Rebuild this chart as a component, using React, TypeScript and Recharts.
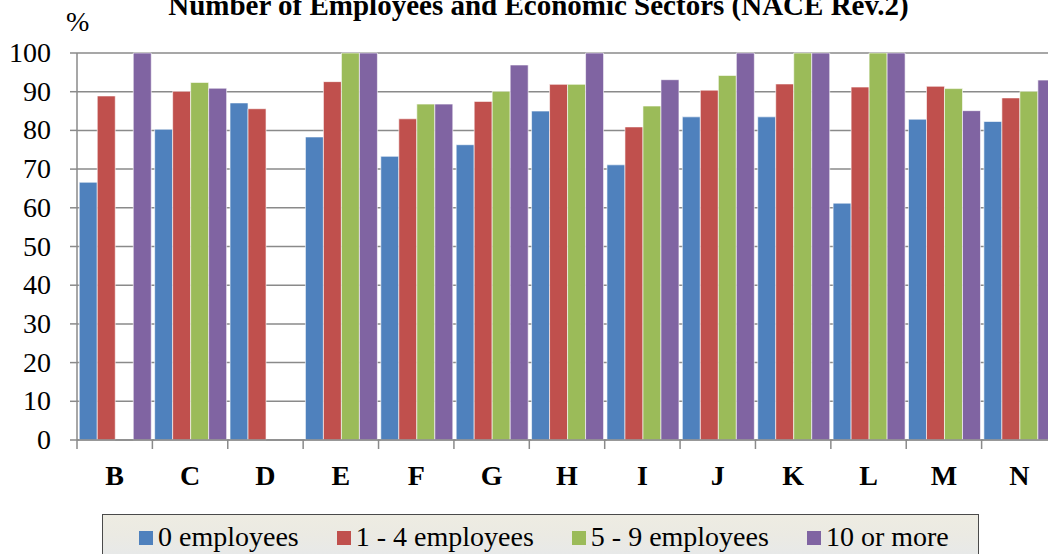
import React from "react";
import { BarChart, Bar, XAxis, YAxis, CartesianGrid } from "recharts";

const categories = ["B", "C", "D", "E", "F", "G", "H", "I", "J", "K", "L", "M", "N"];
const employees0 = [66.6, 80.3, 87.1, 78.3, 73.3, 76.3, 85.0, 71.1, 83.5, 83.5, 61.2, 82.9, 82.3];
const employees1to4 = [88.9, 90.1, 85.6, 92.6, 83.0, 87.5, 91.9, 80.9, 90.4, 92.0, 91.2, 91.4, 88.4];
const employees5to9 = [null, 92.4, null, 100, 86.8, 90.1, 91.9, 86.3, 94.2, 100, 100, 90.8, 90.1];
const employees10plus = [100, 90.9, null, 100, 86.8, 96.9, 100, 93.1, 100, 100, 100, 85.1, 93.0];
const yTicks = [0, 10, 20, 30, 40, 50, 60, 70, 80, 90, 100];

const seriesNames = ["0 employees", "1 - 4 employees", "5 - 9 employees", "10 or more"];
const seriesKeys = ["e0", "e1", "e5", "e10"];
const seriesColors = ["#4F81BD", "#C0504D", "#9BBB59", "#8064A2"];

const data = categories.map((c, i) => ({
  cat: c,
  e0: employees0[i],
  e1: employees1to4[i],
  e5: employees5to9[i],
  e10: employees10plus[i],
}));

const FONT = "'Liberation Serif', 'Times New Roman', Times, 'DejaVu Serif', serif";
const GRID = "#8a8a8a";

const CatTick = (props: any) => {
  const { x, y, payload } = props;
  const off = payload && typeof payload.offset === "number" && payload.offset > 0 ? payload.offset : 37.7;
  return (
    <g>
      <line x1={x - off} x2={x - off} y1={y} y2={y + 9} stroke={GRID} strokeWidth={1.5} />
      <text x={x} y={y + 45} textAnchor="middle" fontFamily={FONT} fontWeight="bold" fontSize={28} fill="#000">
        {payload.value}
      </text>
    </g>
  );
};

const YTick = (props: any) => {
  const { x, y, payload } = props;
  return (
    <text x={x} y={y} dy={9} textAnchor="end" fontFamily={FONT} fontWeight={400} fontSize={28} fill="#000">
      {payload.value}
    </text>
  );
};

export default function App() {
  return (
    <div
      style={{
        position: "absolute",
        left: 0,
        top: 0,
        width: 1048,
        height: 554,
        overflow: "hidden",
        background: "#fff",
      }}
    >
      <div
        style={{
          position: "absolute",
          left: 0,
          width: 1077,
          top: -9,
          textAlign: "center",
          fontFamily: FONT,
          fontWeight: "bold",
          fontSize: 29,
          lineHeight: "29px",
          whiteSpace: "nowrap",
        }}
      >
        Number of Employees and Economic Sectors (NACE Rev.2)
      </div>
      <div
        style={{
          position: "absolute",
          left: 66,
          top: 8,
          fontFamily: FONT,
          fontWeight: 400,
          fontSize: 28,
          lineHeight: "28px",
        }}
      >
        %
      </div>
      <div style={{ position: "absolute", left: 0, top: 0 }}>
        <BarChart
          width={1060}
          height={600}
          data={data}
          margin={{ top: 53, right: 3, left: 0, bottom: 110 }}
          barCategoryGap="3%"
          barGap={0}
        >
          <CartesianGrid vertical={false} stroke={GRID} strokeWidth={1.5} />
          <XAxis
            dataKey="cat"
            height={50}
            tickLine={false}
            tickSize={0}
            tickMargin={0}
            axisLine={{ stroke: GRID, strokeWidth: 1.5 }}
            tick={<CatTick />}
            interval={0}
          />
          <YAxis
            width={77}
            domain={[0, 100]}
            ticks={yTicks}
            interval={0}
            tickSize={7}
            tickMargin={19}
            axisLine={{ stroke: GRID, strokeWidth: 1.5 }}
            tickLine={{ stroke: GRID, strokeWidth: 1.5 }}
            tick={<YTick />}
          />
          {seriesKeys.map((k, i) => (
            <Bar
              key={k}
              dataKey={k}
              name={seriesNames[i]}
              fill={seriesColors[i]}
              stroke="rgba(255,255,255,0.6)"
              strokeWidth={1}
              isAnimationActive={false}
            />
          ))}
        </BarChart>
      </div>
      <div
        style={{
          position: "absolute",
          left: 102,
          top: 514,
          width: 877,
          height: 60,
          border: "1px solid #4a4a4a",
          boxSizing: "border-box",
          background: "linear-gradient(to bottom, #EEECE2 0%, #EBEAE3 35%, #E4E8EE 100%)",
        }}
      >
        <div
          style={{
            display: "flex",
            justifyContent: "flex-start",
            gap: 38,
            marginTop: 8,
            paddingLeft: 36,
            fontFamily: FONT,
            fontWeight: 400,
            fontSize: 28,
            lineHeight: "28px",
            whiteSpace: "nowrap",
          }}
        >
          {seriesNames.map((n, i) => (
            <div key={n} style={{ display: "flex", alignItems: "center" }}>
              <span
                style={{
                  display: "inline-block",
                  width: 14,
                  height: 14,
                  background: seriesColors[i],
                  marginRight: 5,
                  marginTop: 2,
                }}
              />
              <span>{n}</span>
            </div>
          ))}
        </div>
      </div>
    </div>
  );
}
